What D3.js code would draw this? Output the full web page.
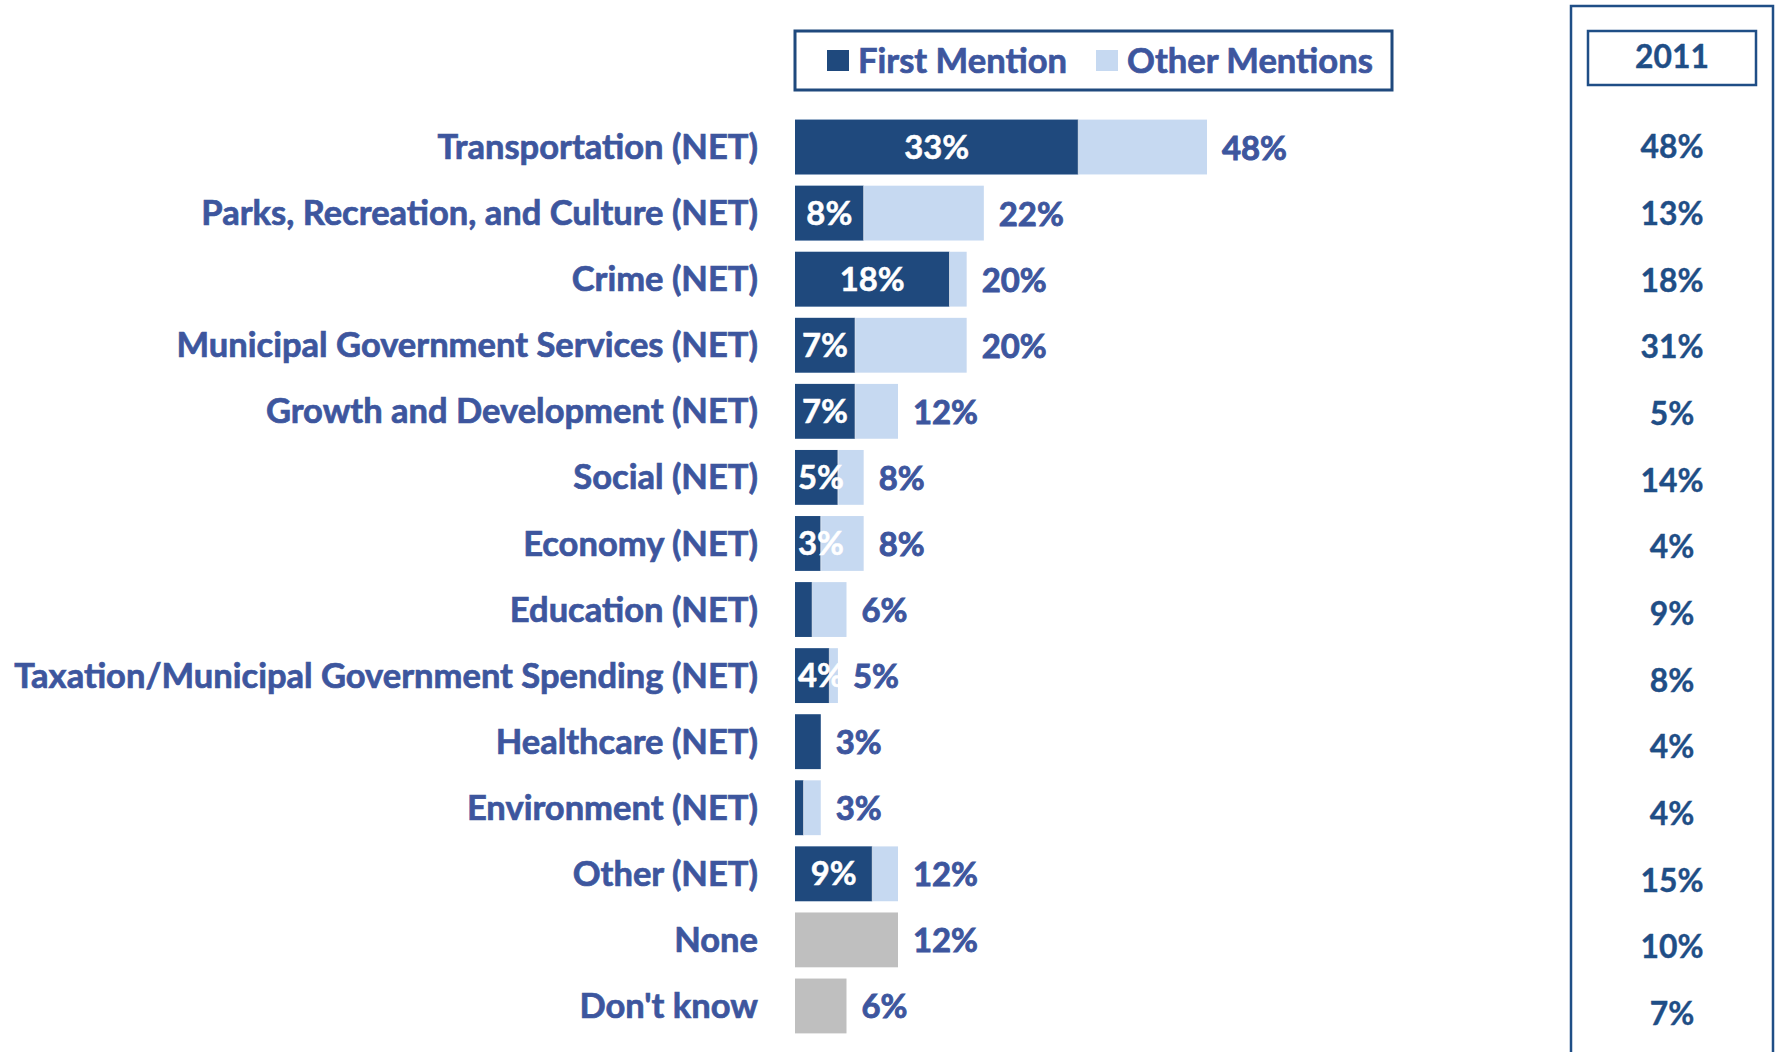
<!DOCTYPE html>
<html><head><meta charset="utf-8">
<script src="https://cdn.jsdelivr.net/npm/d3@7"></script>
<style>
html,body{margin:0;padding:0;background:#fff;}
svg text{font-family:Lato,"Open Sans",sans-serif;font-weight:700;}
</style></head>
<body>
<svg id="c" width="1775" height="1052"></svg>
<script>
const categories = ["Transportation (NET)","Parks, Recreation, and Culture (NET)","Crime (NET)","Municipal Government Services (NET)","Growth and Development (NET)","Social (NET)","Economy (NET)","Education (NET)","Taxation/Municipal Government Spending (NET)","Healthcare (NET)","Environment (NET)","Other (NET)","None","Don't know"];
const firstMention = [33,8,18,7,7,5,3,2,4,3,1,9,0,0];
const totalMentions = [48,22,20,20,12,8,8,6,5,3,3,12,12,6];
const firstLabels = ["33%","8%","18%","7%","7%","5%","3%",null,"4%",null,null,"9%",null,null];
const totalLabels = ["48%","22%","20%","20%","12%","8%","8%","6%","5%","3%","3%","12%","12%","6%"];
const grayRows = ["None","Don't know"];
const values2011 = ["48%","13%","18%","31%","5%","14%","4%","9%","8%","4%","4%","15%","10%","7%"];
const legendItems = ["First Mention","Other Mentions"];
const colFirst = "#1F497D", colOther = "#C6D9F1", colGray = "#BFBFBF";
const txtCol = "#3D569E", navy = "#1F4E86";

const svg = d3.select("#c");
const x = d3.scaleLinear().domain([0,48]).range([795,1207]);
const y = d3.scaleBand().domain(categories).range([114,1039]).paddingInner(0.17).paddingOuter(0.085);
const y2 = d3.scalePoint().domain(categories).range([147,1014]);

function fitSize(text, target, base){
  const t = svg.append("text").attr("font-size", base).text(text);
  const w = t.node().getComputedTextLength();
  t.remove();
  return base*target/w;
}
const catSize = fitSize("Taxation/Municipal Government Spending (NET)", 744, 30);
const numSize = fitSize("48%", 65, 30);
const rightSize = fitSize("48%", 63, 30);
const legSize = fitSize("Other Mentions", 246, 30);

function heavy(sel, col, w){ return sel.attr("stroke", col).attr("stroke-width", w).attr("paint-order","stroke"); }

// category labels
heavy(svg.append("g").selectAll("text").data(categories).join("text")
  .attr("x", 758).attr("y", d=>y(d)+y.bandwidth()/2).attr("dy","0.35em")
  .attr("text-anchor","end").attr("font-size",catSize).attr("fill",txtCol).text(d=>d), txtCol, 0.7);

const rows = categories.map((c,i)=>({c,f:firstMention[i],t:totalMentions[i],fl:firstLabels[i],tl:totalLabels[i],gray:grayRows.includes(c)}));
const g = svg.append("g");
g.selectAll("rect.o").data(rows).join("rect").attr("class","o")
  .attr("x", x(0)).attr("y", d=>y(d.c)).attr("height", y.bandwidth())
  .attr("width", d=>x(d.t)-x(0)).attr("fill", d=>d.gray?colGray:colOther);
g.selectAll("rect.f").data(rows.filter(d=>d.f>0)).join("rect").attr("class","f")
  .attr("x", x(0)).attr("y", d=>y(d.c)).attr("height", y.bandwidth())
  .attr("width", d=>x(d.f)-x(0)).attr("fill", colFirst);
g.selectAll("line.dv").data(rows.filter(d=>d.f>0 && d.t>d.f)).join("line")
  .attr("x1", d=>x(d.f)).attr("x2", d=>x(d.f)).attr("y1", d=>y(d.c)).attr("y2", d=>y(d.c)+y.bandwidth())
  .attr("stroke","#fff").attr("stroke-width",1).attr("opacity",0.6);
heavy(g.selectAll("text.in").data(rows.filter(d=>d.fl)).join("text")
  .attr("font-size", numSize).attr("fill","#fff").text(d=>d.fl)
  .each(function(d){
    const w = this.getComputedTextLength();
    const cx = (x(0)+x(d.f))/2;
    const left = Math.max(x(0)+3, cx - w/2);
    d3.select(this).attr("x", left).attr("y", y(d.c)+y.bandwidth()/2).attr("dy","0.35em");
  }), "#fff", 0.5);
heavy(g.selectAll("text.tot").data(rows).join("text")
  .attr("x", d=>x(d.t)+15).attr("y", d=>y(d.c)+y.bandwidth()/2).attr("dy","0.38em")
  .attr("font-size", numSize).attr("fill", txtCol).text(d=>d.tl), txtCol, 0.9);

// legend
const lg = svg.append("g");
lg.append("rect").attr("x",795).attr("y",31).attr("width",597).attr("height",59)
  .attr("fill","#fff").attr("stroke",colFirst).attr("stroke-width",3);
const legX = [[827,858],[1096,1127]];
const legCol = [colFirst, colOther];
legendItems.forEach((t,i)=>{
  lg.append("rect").attr("x",legX[i][0]).attr("y",50).attr("width",22).attr("height",21).attr("fill",legCol[i]);
  heavy(lg.append("text").attr("x",legX[i][1]).attr("y",61).attr("dy","0.35em")
    .attr("font-size",legSize).attr("fill",txtCol).text(t), txtCol, 0.7);
});

// right panel
const rp = svg.append("g");
rp.append("path").attr("d","M1571,1052 L1571,6 L1773,6 L1773,1052")
  .attr("fill","none").attr("stroke",navy).attr("stroke-width",2.5);
rp.append("rect").attr("x",1588).attr("y",31).attr("width",168).attr("height",54)
  .attr("fill","none").attr("stroke",navy).attr("stroke-width",2.5);
heavy(rp.append("text").attr("x",1672).attr("y",57).attr("dy","0.35em").attr("text-anchor","middle")
  .attr("font-size",rightSize).attr("fill",navy).text("2011"), navy, 0.4);
heavy(rp.selectAll("text.v").data(categories).join("text").attr("class","v")
  .attr("x",1672).attr("y",d=>y2(d)).attr("dy","0.35em").attr("text-anchor","middle")
  .attr("font-size",rightSize).attr("fill",navy).text((d,i)=>values2011[i]), navy, 0.4);
</script>
</body></html>
